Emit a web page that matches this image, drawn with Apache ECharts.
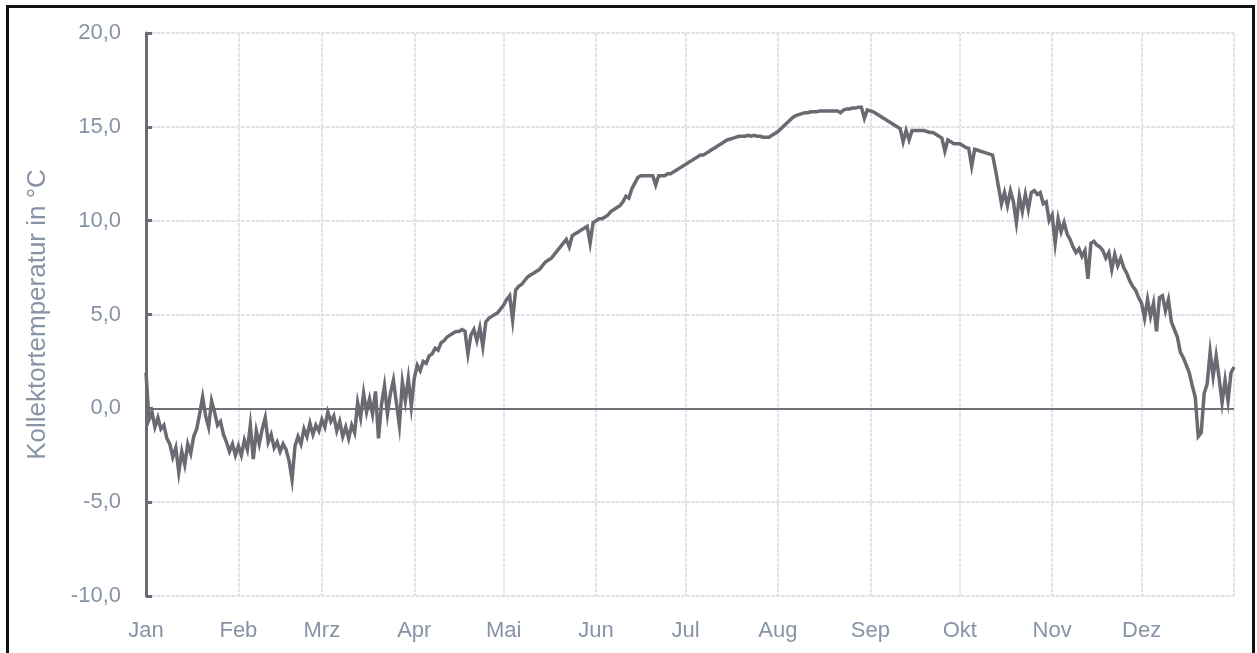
<!DOCTYPE html>
<html>
<head>
<meta charset="utf-8">
<script src="https://cdn.jsdelivr.net/npm/echarts@6/dist/echarts.min.js"></script>
<style>
  html, body { margin: 0; padding: 0; background: #fff; }
  #chart { width: 1257px; height: 653px; }
</style>
</head>
<body>
<div id="chart"></div>
<script>
// Month labels and lengths (non-leap year)
const monthNames = ['Jan', 'Feb', 'Mrz', 'Apr', 'Mai', 'Jun', 'Jul', 'Aug', 'Sep', 'Okt', 'Nov', 'Dez'];
const monthDays = [31, 28, 31, 30, 31, 30, 31, 31, 30, 31, 30, 31];

// Daily collector temperature in °C, one array per month
const tJan = [1.9, -0.6, -0.2, -1.0, -0.5, -1.1, -0.9, -1.6, -1.9, -2.6, -2.1, -3.4, -2.3, -3.0, -1.9, -2.4, -1.5, -1.1, -0.3, 0.6, -0.4, -1.0, 0.4, -0.2, -0.9, -0.7, -1.4, -1.8, -2.3, -1.9, -2.5];
const tFeb = [-2.0, -2.5, -1.7, -2.2, -0.9, -2.7, -1.2, -1.9, -1.1, -0.5, -1.8, -1.4, -2.1, -1.8, -2.3, -1.9, -2.2, -2.8, -3.8, -2.0, -1.5, -1.9, -1.1, -1.5, -0.8, -1.4, -0.9, -1.2];
const tMrz = [-0.6, -1.0, -0.2, -0.7, -0.4, -1.2, -0.7, -1.5, -1.0, -1.6, -0.9, -1.3, 0.3, -0.5, 0.8, -0.2, 0.5, -0.3, 0.9, -1.6, 0.2, 1.2, -0.3, 0.8, 1.5, 0.3, -0.9, 1.4, 0.4, 1.6, 0.1];
const tApr = [1.6, 2.3, 2.0, 2.5, 2.4, 2.8, 2.9, 3.2, 3.1, 3.5, 3.6, 3.8, 3.9, 4.0, 4.1, 4.1, 4.2, 4.1, 2.9, 3.9, 4.2, 3.6, 4.3, 3.3, 4.6, 4.8, 4.9, 5.0, 5.1, 5.3];
const tMai = [5.5, 5.8, 6.0, 4.7, 6.3, 6.5, 6.6, 6.8, 7.0, 7.1, 7.2, 7.3, 7.4, 7.6, 7.8, 7.9, 8.0, 8.2, 8.4, 8.6, 8.8, 9.0, 8.6, 9.2, 9.3, 9.4, 9.5, 9.6, 9.7, 8.8, 9.9];
const tJun = [10.0, 10.1, 10.1, 10.2, 10.3, 10.5, 10.6, 10.7, 10.8, 11.0, 11.3, 11.2, 11.7, 12.0, 12.3, 12.4, 12.4, 12.4, 12.4, 12.4, 11.9, 12.4, 12.4, 12.4, 12.5, 12.5, 12.6, 12.7, 12.8, 12.9];
const tJul = [13.0, 13.1, 13.2, 13.3, 13.4, 13.5, 13.5, 13.6, 13.7, 13.8, 13.9, 14.0, 14.1, 14.2, 14.3, 14.35, 14.4, 14.45, 14.5, 14.5, 14.5, 14.55, 14.5, 14.55, 14.5, 14.5, 14.45, 14.45, 14.45, 14.55, 14.65];
const tAug = [14.75, 14.9, 15.05, 15.2, 15.35, 15.5, 15.6, 15.65, 15.7, 15.75, 15.75, 15.8, 15.8, 15.8, 15.85, 15.85, 15.85, 15.85, 15.85, 15.85, 15.85, 15.75, 15.9, 15.95, 15.95, 16.0, 16.0, 16.05, 16.05, 15.45, 15.9];
const tSep = [15.85, 15.8, 15.7, 15.6, 15.5, 15.4, 15.3, 15.2, 15.1, 15.0, 14.9, 14.2, 14.8, 14.3, 14.8, 14.8, 14.8, 14.8, 14.8, 14.75, 14.7, 14.7, 14.6, 14.5, 14.4, 13.7, 14.3, 14.2, 14.1, 14.1];
const tOkt = [14.1, 14.0, 13.9, 13.85, 12.9, 13.8, 13.75, 13.7, 13.65, 13.6, 13.55, 13.5, 12.7, 11.8, 10.9, 11.5, 10.8, 11.6, 11.0, 9.9, 11.3, 10.5, 11.4, 10.6, 11.5, 11.6, 11.4, 11.5, 10.9, 11.0, 10.0];
const tNov = [10.3, 8.8, 10.1, 9.4, 9.9, 9.3, 9.0, 8.6, 8.3, 8.5, 8.1, 8.4, 6.9, 8.8, 8.9, 8.7, 8.6, 8.4, 8.0, 8.3, 7.4, 8.2, 7.6, 8.0, 7.5, 7.2, 6.8, 6.5, 6.3, 5.9];
const tDez = [5.6, 4.8, 5.8, 4.9, 5.6, 4.1, 5.9, 6.0, 5.2, 5.8, 4.6, 4.2, 3.8, 3.0, 2.7, 2.3, 1.9, 1.2, 0.6, -1.5, -1.3, 0.8, 1.3, 3.0, 1.7, 2.8, 1.6, 0.3, 1.5, 0.4, 1.9];
const tNextJan = [2.2];

// Y axis range
const yMin = -10, yMax = 20, yStep = 5;

// Build day categories and the matching series
const monthly = [tJan, tFeb, tMrz, tApr, tMai, tJun, tJul, tAug, tSep, tOkt, tNov, tDez];
const categories = [];
const monthStart = new Map();
monthDays.forEach((n, m) => {
  monthStart.set(categories.length, monthNames[m]);
  for (let d = 1; d <= n; d++) categories.push(d + '. ' + monthNames[m]);
});
const yearEnd = categories.length;
categories.push('1. Jan');
const values = [].concat(...monthly, tNextJan);

const textColor = '#8893a6';
const font = 'Liberation Sans, Arial, sans-serif';
const gridColor = '#e0e3ea';
const lineColor = '#6b6a73';

const chart = echarts.init(document.getElementById('chart'), null, { renderer: 'canvas' });
chart.setOption({
  animation: false,
  backgroundColor: '#ffffff',
  grid: { left: 146, right: 23, top: 33, bottom: 57, containLabel: false },
  xAxis: {
    type: 'category',
    data: categories,
    boundaryGap: false,
    axisLine: { show: false },
    axisTick: { show: false },
    axisLabel: {
      interval: (i) => monthStart.has(i) && i !== yearEnd,
      formatter: (v, i) => monthStart.get(i) || '',
      color: textColor,
      fontFamily: font,
      fontSize: 22,
      margin: 24
    },
    splitLine: {
      show: true,
      interval: (i) => monthStart.has(i) || i === yearEnd,
      lineStyle: { color: gridColor, width: 2, type: [4, 1] }
    }
  },
  yAxis: {
    type: 'value',
    min: yMin,
    max: yMax,
    interval: yStep,
    name: 'Kollektortemperatur in °C',
    nameLocation: 'middle',
    nameGap: 95,
    nameTextStyle: { color: textColor, fontFamily: font, fontSize: 26 },
    axisLine: { show: true, lineStyle: { color: '#6d6c74', width: 3 } },
    axisTick: { show: true, inside: true, length: 6, lineStyle: { color: '#6d6c74', width: 3 } },
    axisLabel: {
      formatter: (v) => v.toFixed(1).replace('.', ','),
      color: textColor,
      fontFamily: font,
      fontSize: 22,
      margin: 25
    },
    splitLine: { show: true, lineStyle: { color: gridColor, width: 2, type: [4, 1] } }
  },
  series: [{
    type: 'line',
    data: values,
    showSymbol: false,
    symbol: 'none',
    lineStyle: { color: lineColor, width: 3.5, join: 'miter' },
    z: 3,
    markLine: {
      silent: true,
      symbol: 'none',
      label: { show: false },
      lineStyle: { color: '#707078', width: 2, type: 'solid' },
      data: [{ yAxis: 0 }],
      z: 2
    }
  }],
  graphic: [{
    type: 'rect',
    shape: { x: 7.5, y: 6.5, width: 1246, height: 700 },
    style: { fill: 'none', stroke: '#111111', lineWidth: 3 },
    silent: true
  }]
});
</script>
</body>
</html>
